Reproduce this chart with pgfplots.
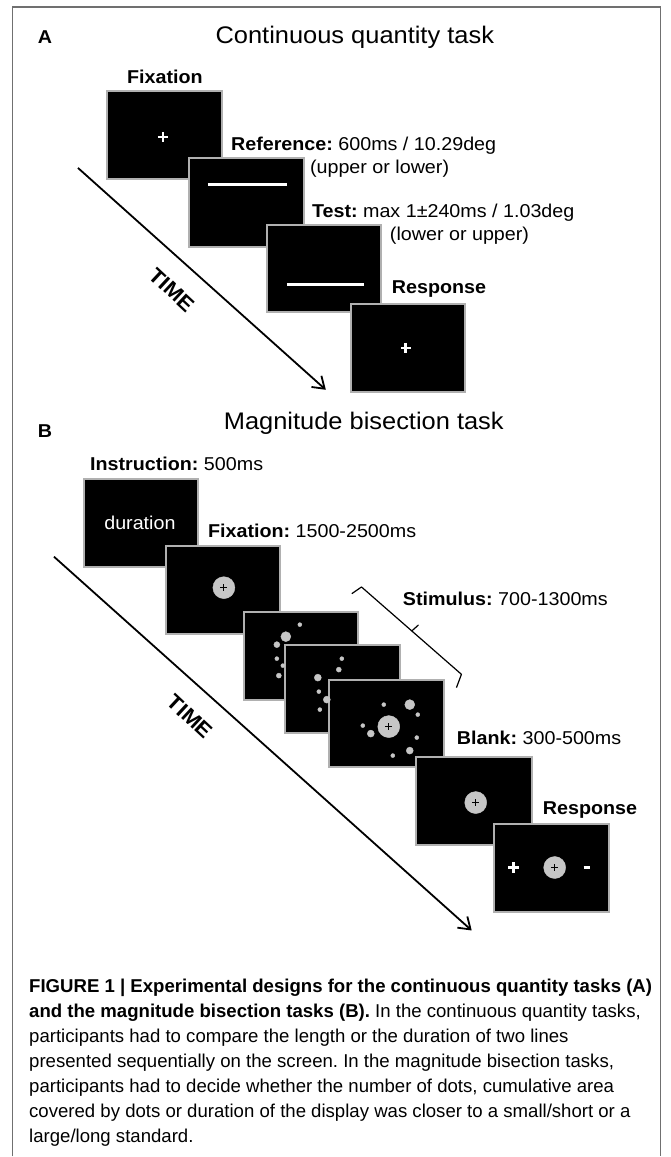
\documentclass[border=0pt]{standalone}
\usepackage{pgfplots}
\pgfplotsset{compat=1.18}
\usepackage{fontspec}
\setmainfont{Liberation Sans}
\usepackage{graphicx}
\usetikzlibrary{arrows.meta}
\definecolor{boxedge}{HTML}{B0B0B0}
\definecolor{dotgray}{HTML}{C6C6C6}
\definecolor{framegray}{HTML}{707070}
\definecolor{redT}{HTML}{E0203A}
\newcommand\sx[1]{\scalebox{1.06}[1]{#1}}
\newcommand\fs[1]{\fontsize{#1}{#1}\selectfont}
\newcommand\screen[4]{\addplot[fill=black, draw=boxedge, line width=2pt, line cap=rect] coordinates {(#1,#2) (#3,#2) (#3,#4) (#1,#4) (#1,#2)};}
\newcommand\dotp[3]{\addplot[only marks, mark=*, mark size=#3pt, color=dotgray] coordinates {(#1,#2)};}
\newcommand\fixdisk[2]{\dotp{#1}{#2}{11}\addplot[only marks, mark=+, mark size=3.5pt, black, line width=0.8pt] coordinates {(#1,#2)};}
\newcommand\whiteplus[3]{\addplot[only marks, mark=+, mark size=#3pt, white, line width=2.6pt] coordinates {(#1,#2)};}
\frenchspacing
\begin{document}
\frenchspacing
\begin{tikzpicture}
\begin{axis}[
  width=671pt, height=1157pt, scale only axis,
  xmin=0, xmax=671, ymin=0, ymax=1157, y dir=reverse,
  axis lines=none, ticks=none, clip=false,
]
% background
\addplot[fill=white, draw=none] coordinates {(0,0) (671,0) (671,1157) (0,1157) (0,0)};
% frame
\addplot[draw=framegray, line width=1.3pt] coordinates {(12.5,1157) (12.5,7) (661,7) (661,1157)};

% ---------------- Panel A ----------------
\node[inner sep=0] at (axis cs:45,37) {\fs{18.6}\sx{\textbf{A}}};
\node[inner sep=0] at (axis cs:355,37) {\fs{24}\sx{Continuous quantity task}};
\node[inner sep=0, anchor=base] at (axis cs:165,84) {\fs{18.6}\sx{\textbf{Fixation}}};
\screen{107}{91}{222}{179}
\whiteplus{163}{137}{5}
\screen{189}{158}{304}{247}
\addplot[white, line width=3pt] coordinates {(208,185) (287,185)};
\screen{267}{225}{381}{312}
\addplot[white, line width=3pt] coordinates {(287,285) (364,285)};
\screen{351}{304}{465}{392}
\whiteplus{406}{348}{5}
\node[inner sep=0, anchor=base west] at (axis cs:231,151) {\fs{18.6}\sx{\textbf{Reference:} 600ms / 10.29deg}};
\node[inner sep=0, anchor=base west] at (axis cs:310,174) {\fs{18.6}\sx{(upper or lower)}};
\node[inner sep=0, anchor=base west] at (axis cs:312,218) {\fs{18.6}\sx{\textbf{Test:} max 1±240ms / 1.03deg}};
\node[inner sep=0, anchor=base west] at (axis cs:390,241) {\fs{18.6}\sx{(lower or upper)}};
\node[inner sep=0, anchor=base west] at (axis cs:392,294) {\fs{18.6}\sx{\textbf{Response}}};
\addplot[black, line width=1.8pt, -{Straight Barb[length=11pt, width=15pt, line width=1.8pt]}] coordinates {(78,168) (326,390)};
\node[inner sep=0, rotate=-43] at (axis cs:172,290) {\fs{21}\sx{\textbf{TIME}}};

% ---------------- Panel B ----------------
\node[inner sep=0] at (axis cs:45,431) {\fs{18.6}\sx{\textbf{B}}};
\node[inner sep=0] at (axis cs:364,424) {\fs{24}\sx{Magnitude bisection task}};
\node[inner sep=0, anchor=base west] at (axis cs:90,471) {\fs{18.6}\sx{\textbf{Instruction:} 500ms}};
\screen{84}{479}{198}{567}
\node[inner sep=0, text=white] at (axis cs:140,523) {\fs{18.6}\sx{duration}};
\node[inner sep=0, anchor=base west] at (axis cs:208,538) {\fs{18.6}\sx{\textbf{Fixation:} 1500-2500ms}};
\screen{166}{546}{280}{634}
\fixdisk{224}{588}
% stimulus 1
\screen{244}{612}{358}{700}
\dotp{300}{625}{2}
\dotp{286}{637}{5}
\dotp{277}{645}{3}
\dotp{277}{659}{2}
\dotp{283}{666}{2}
\dotp{279}{676}{2.5}
% stimulus 2
\screen{285}{645}{400}{733}
\dotp{342}{659}{2}
\dotp{339}{670}{2.5}
\dotp{318}{678}{3.5}
\dotp{319}{692}{2}
\dotp{327}{700}{3.5}
\dotp{320}{710}{2}
% stimulus 3
\screen{329}{680}{444}{767}
\fixdisk{389}{727}
\dotp{410}{705}{5}
\node[inner sep=0, text=redT] at (axis cs:410,705) {\fs{7}\textbf{T}};
\dotp{384}{705}{2}
\dotp{418}{715}{2}
\dotp{363}{726}{2}
\dotp{371}{734}{3.5}
\dotp{417}{738}{2}
\dotp{410}{751}{3.5}
\dotp{393}{756}{2}
% bracket
\addplot[black, line width=1.2pt, line join=round] coordinates {(352,594) (361.7,587.3) (461.7,674.7) (456.7,688)};
\addplot[black, line width=1.2pt, line cap=round] coordinates {(412,631.3) (418.5,625.5)};
\node[inner sep=0, anchor=base west] at (axis cs:403,606) {\fs{18.6}\sx{\textbf{Stimulus:} 700-1300ms}};
\node[inner sep=0, anchor=base west] at (axis cs:457,745) {\fs{18.6}\sx{\textbf{Blank:} 300-500ms}};
\screen{416}{757}{532}{845}
\fixdisk{476}{803}
\node[inner sep=0, anchor=base west] at (axis cs:543,815) {\fs{18.6}\sx{\textbf{Response}}};
\screen{494}{824}{609}{912}
\whiteplus{514}{868}{5.5}
\fixdisk{555}{868}
\addplot[white, line width=3pt] coordinates {(584,868) (590,868)};
\addplot[black, line width=1.8pt, -{Straight Barb[length=11pt, width=15pt, line width=1.8pt]}] coordinates {(54,557) (472,931)};
\node[inner sep=0, rotate=-43] at (axis cs:190,717) {\fs{21}\sx{\textbf{TIME}}};

% ---------------- Caption ----------------
\node[inner sep=0, anchor=base west] at (axis cs:29,993) {\fs{18.6}\textbf{FIGURE 1 | Experimental designs for the continuous quantity tasks (A)}};
\node[inner sep=0, anchor=base west] at (axis cs:29,1018) {\fs{18.6}\textbf{and the magnitude bisection tasks (B).} In the continuous quantity tasks,};
\node[inner sep=0, anchor=base west] at (axis cs:29,1043) {\fs{18.6}participants had to compare the length or the duration of two lines};
\node[inner sep=0, anchor=base west] at (axis cs:29,1068) {\fs{18.6}presented sequentially on the screen. In the magnitude bisection tasks,};
\node[inner sep=0, anchor=base west] at (axis cs:29,1093) {\fs{18.6}participants had to decide whether the number of dots, cumulative area};
\node[inner sep=0, anchor=base west] at (axis cs:29,1118) {\fs{18.6}covered by dots or duration of the display was closer to a small/short or a};
\node[inner sep=0, anchor=base west] at (axis cs:29,1143) {\fs{18.6}large/long standard.};
\end{axis}
\end{tikzpicture}
\end{document}
